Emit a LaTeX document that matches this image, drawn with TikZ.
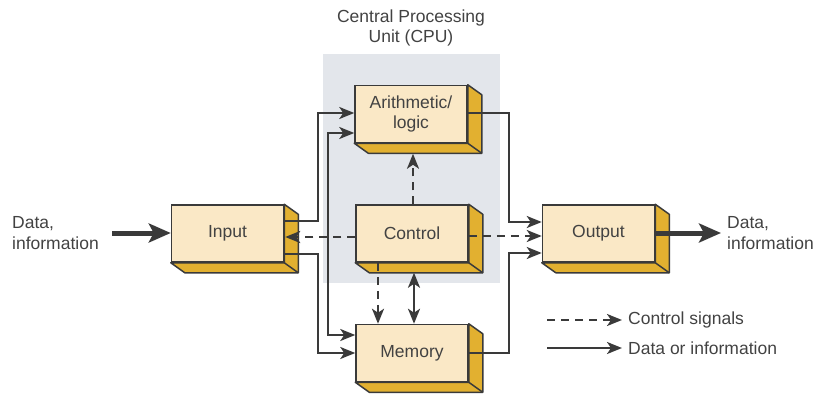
\documentclass[tikz,border=0pt]{standalone}
\usepackage{fontspec}
\setmainfont{Liberation Sans}
\usetikzlibrary{arrows.meta,calc}
\definecolor{frontc}{RGB}{250,232,198}
\definecolor{sidec}{RGB}{226,176,48}
\definecolor{edgec}{RGB}{58,58,58}
\definecolor{cpubg}{RGB}{227,230,235}
\definecolor{txtc}{RGB}{66,66,66}
\tikzset{
  blk/.style={draw=edgec, line width=1.5pt, fill=frontc, minimum width=112pt, minimum height=57pt, inner sep=0pt, text=txtc, align=center, font=\fontsize{17.5}{20.5}\selectfont},
  sideface/.style={draw=edgec, line width=1.5pt, fill=sidec, line join=round},
  tip/.style={Stealth[length=15pt,width=12pt,inset=4pt]},
  data/.style={draw=edgec, line width=2.2pt, -{Stealth[length=15pt,width=12pt,inset=4pt]}},
  both/.style={data, {Stealth[length=15pt,width=12pt,inset=4pt]}-{Stealth[length=15pt,width=12pt,inset=4pt]}},
  ctrl/.style={data, dash pattern=on 8pt off 6pt},
  bigarrow/.style={draw=edgec, line width=5pt, -{Stealth[length=22pt,width=19pt,inset=5pt]}},
  lbl/.style={text=txtc, inner sep=0pt, align=left, font=\fontsize{17.5}{20.5}\selectfont}
}
\newcommand\blockbox[4]{%
  \node[blk] (#1) at (#2,#3) {#4};
  \path[sideface] (#1.north east) -- ++(14,10) -- ($(#1.south east)+(14,10)$) -- ($(#1.south west)+(14,10)$) -- (#1.south west) -- (#1.south east) -- cycle;
  \draw[sideface] (#1.south east) -- ++(14,10);
}
\begin{document}
\begin{tikzpicture}[x=1pt,y=-1pt]
\useasboundingbox (0,0) rectangle (817,396);
% CPU background
\fill[cpubg] (323,54) rectangle (500,283);
\node[lbl, align=center] (cpu) at (411,28) {Central Processing\\Unit (CPU)};
% blocks
\blockbox{arith}{411}{114}{Arithmetic/\\logic}
\blockbox{ctl}{412}{233.5}{Control}
\blockbox{mem}{412}{353}{Memory}
\blockbox{inp}{227.5}{233.5}{Input}
\blockbox{out}{598.5}{233.5}{Output}
% data lines
\draw[data] (inp.east |- 0,221) -- (318,221) |- (arith.west |- 0,113);
\draw[data] (inp.east |- 0,254) -- (318,254) |- (mem.west |- 0,353);
\draw[both] (arith.west |- 0,133) -- (328,133) -- (328,335) -- (mem.west |- 0,335);
\draw[data] (arith.east |- 0,113) -- (509,113) |- (out.west |- 0,222);
\draw[data] (mem.east) -- (509,353) |- (out.west |- 0,253);
% control lines
\draw[ctrl] (ctl.east |- 0,236) -- (out.west |- 0,236);
\draw[ctrl] (ctl.west |- 0,237) -- ($(inp.east |- 0,237)+(1,0)$);
\draw[ctrl] (ctl.north -| 413,0) -- ($(arith.south -| 413,0)+(0,10.5)$);
\draw[ctrl] (ctl.south -| 378,0) -- (mem.north -| 378,0);
\draw[both] ($(ctl.south -| 414,0)+(0,10)$) -- (mem.north -| 414,0);
% external data
\coordinate (din) at (112,233);
\coordinate (dout) at (721,233);
\draw[bigarrow] (din) -- (inp.west |- 0,233);
\draw[bigarrow] (out.east |- 0,233) -- (dout);
\node[lbl, anchor=west] (tin) at (12,233) {Data,\\information};
\node[lbl, anchor=west] (tout) at (727,233) {Data,\\information};
% legend
\coordinate (l1a) at (547,320);
\coordinate (l1b) at (622,320);
\coordinate (l2a) at (547,348);
\coordinate (l2b) at (622,348);
\draw[ctrl] (l1a) -- (l1b);
\draw[data] (l2a) -- (l2b);
\node[lbl, anchor=west] (lg1) at (628,320) {Control signals};
\node[lbl, anchor=west] (lg2) at (628,348) {Data or information};
\end{tikzpicture}
\end{document}
